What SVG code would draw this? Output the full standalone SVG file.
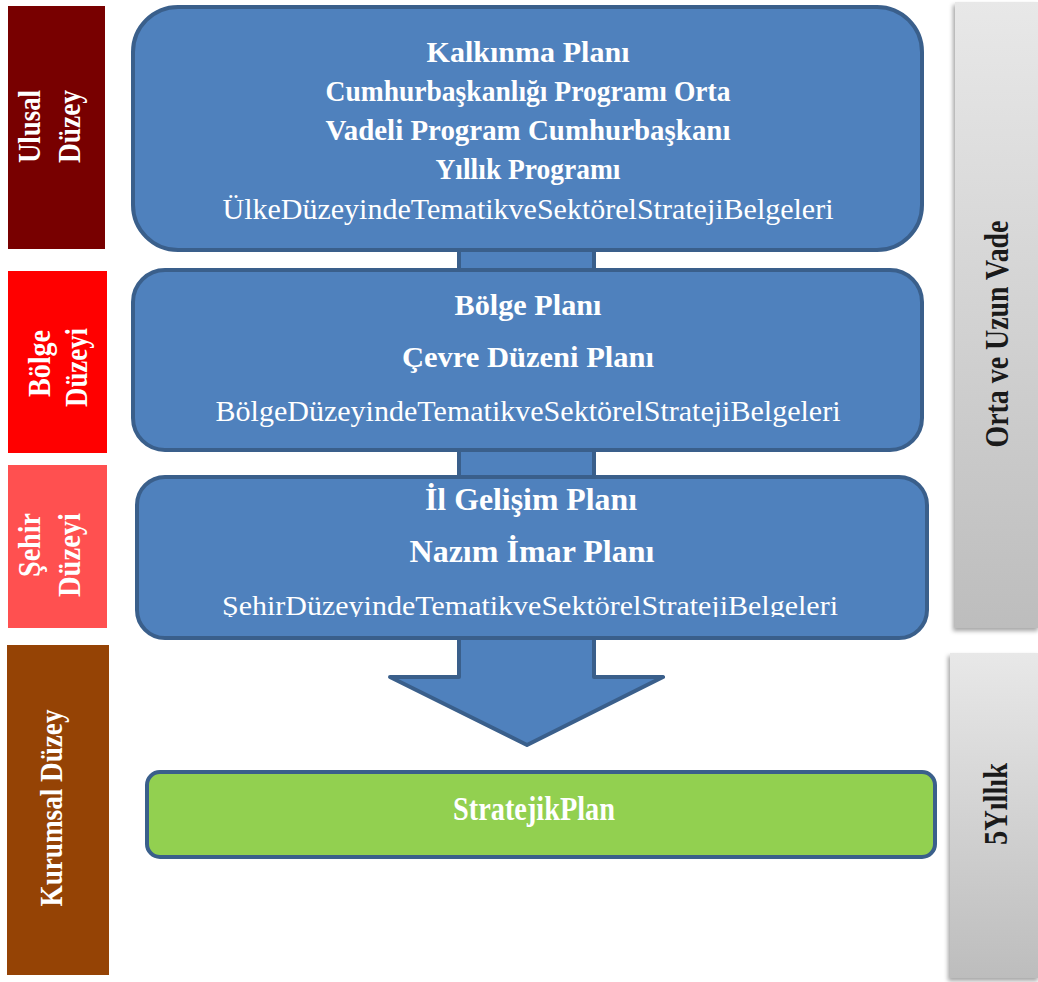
<svg xmlns="http://www.w3.org/2000/svg" width="1038" height="982" viewBox="0 0 1038 982">
<style>
.box{fill:#4F81BD;stroke:#3A5F8B;stroke-width:4}
.green{fill:#92D050;stroke:#3A5F8B;stroke-width:4}
.t{font-family:"Liberation Serif","Times New Roman",serif;fill:#FFFFFF;text-anchor:middle;font-size:30px}
.b{font-weight:bold}
.lab{font-family:"Liberation Serif","Times New Roman",serif;fill:#FFFFFF;font-weight:bold;font-size:32px}
.gl{font-family:"Liberation Serif","Times New Roman",serif;fill:#1A1A1A;font-weight:bold;font-size:33px;text-anchor:middle}
</style>
<defs>
<linearGradient id="gray" x1="0" y1="0" x2="0" y2="1">
<stop offset="0" stop-color="#E8E8E8"/>
<stop offset="1" stop-color="#BDBDBD"/>
</linearGradient>
<filter id="sh" x="-20%" y="-5%" width="140%" height="110%">
<feDropShadow dx="-2" dy="3" stdDeviation="2" flood-color="#000" flood-opacity="0.35"/>
</filter>
<clipPath id="clip3"><rect x="137" y="477" width="790" height="140"/></clipPath>
</defs>
<rect width="1038" height="982" fill="#FFFFFF"/>

<g id="level-ulusal">
<rect x="8" y="6" width="97" height="243" fill="#780000"/>
<text class="lab" text-anchor="end" textLength="73" lengthAdjust="spacingAndGlyphs" transform="translate(40,90) rotate(-90)">Ulusal</text>
<text class="lab" text-anchor="end" textLength="73" lengthAdjust="spacingAndGlyphs" transform="translate(80,90) rotate(-90)">Düzey</text>
</g>
<g id="level-bolge">
<rect x="8" y="271" width="99" height="182" fill="#FF0000"/>
<text class="lab" text-anchor="end" textLength="67" lengthAdjust="spacingAndGlyphs" transform="translate(50,330) rotate(-90)">Bölge</text>
<text class="lab" text-anchor="end" textLength="79" lengthAdjust="spacingAndGlyphs" transform="translate(87,328) rotate(-90)">Düzeyi</text>
</g>
<g id="level-sehir">
<rect x="8" y="465" width="99" height="163" fill="#FF5050"/>
<text class="lab" text-anchor="end" textLength="64" lengthAdjust="spacingAndGlyphs" transform="translate(40,513) rotate(-90)">Şehir</text>
<text class="lab" text-anchor="end" textLength="84" lengthAdjust="spacingAndGlyphs" transform="translate(80,513) rotate(-90)">Düzeyi</text>
</g>
<g id="level-kurumsal">
<rect x="7" y="645" width="102" height="330" fill="#954305"/>
<text class="lab" text-anchor="middle" textLength="197" lengthAdjust="spacingAndGlyphs" transform="translate(62,808) rotate(-90)">Kurumsal Düzey</text>
</g>

<g id="term-orta-uzun">
<rect x="955" y="2" width="85" height="626" fill="url(#gray)" filter="url(#sh)"/>
<text class="gl" textLength="227" lengthAdjust="spacingAndGlyphs" transform="translate(1008,334) rotate(-90)">Orta ve Uzun Vade</text>
</g>
<g id="term-5yillik">
<rect x="950" y="653" width="90" height="325" fill="url(#gray)" filter="url(#sh)"/>
<text class="gl" textLength="82" lengthAdjust="spacingAndGlyphs" transform="translate(1007,804) rotate(-90)">5Yıllık</text>
</g>

<g id="connectors">
<path class="box" stroke-linejoin="round" d="M459,240 L459,677 L390,677 L527,745 L663,677 L594,677 L594,240 Z"/>
</g>

<g id="node-ulusal">
<rect class="box" x="133" y="7" width="789" height="243" rx="45" ry="45"/>
<text class="t b" x="528" y="62" textLength="203" lengthAdjust="spacingAndGlyphs">Kalkınma Planı</text>
<text class="t b" x="528" y="101" textLength="405" lengthAdjust="spacingAndGlyphs">Cumhurbaşkanlığı Programı Orta</text>
<text class="t b" x="528" y="140" textLength="405" lengthAdjust="spacingAndGlyphs">Vadeli Program Cumhurbaşkanı</text>
<text class="t b" x="528" y="179" textLength="185" lengthAdjust="spacingAndGlyphs">Yıllık Programı</text>
<text class="t" x="528" y="219" textLength="611" lengthAdjust="spacingAndGlyphs">ÜlkeDüzeyindeTematikveSektörelStratejiBelgeleri</text>
</g>

<g id="node-bolge">
<rect class="box" x="133" y="270" width="789" height="180" rx="32" ry="32"/>
<text class="t b" x="528" y="315" textLength="147" lengthAdjust="spacingAndGlyphs">Bölge Planı</text>
<text class="t b" x="528" y="367" textLength="252" lengthAdjust="spacingAndGlyphs">Çevre Düzeni Planı</text>
<text class="t" x="528" y="421" textLength="625" lengthAdjust="spacingAndGlyphs">BölgeDüzeyindeTematikveSektörelStratejiBelgeleri</text>
</g>

<g id="node-sehir">
<rect class="box" x="137" y="477" width="790" height="161" rx="28" ry="28"/>
<text class="t b" x="531" y="510" style="font-size:31px" textLength="212" lengthAdjust="spacingAndGlyphs">İl Gelişim Planı</text>
<text class="t b" x="532" y="562" style="font-size:31px" textLength="245" lengthAdjust="spacingAndGlyphs">Nazım İmar Planı</text>
<g clip-path="url(#clip3)">
<text class="t" x="530" y="615" style="font-size:28px" textLength="616" lengthAdjust="spacingAndGlyphs">ŞehirDüzeyindeTematikveSektörelStratejiBelgeleri</text>
</g>
</g>

<g id="node-stratejik">
<rect class="green" x="147" y="772" width="788" height="85" rx="13" ry="13"/>
<text class="t b" x="534" y="820" style="font-size:33px" textLength="162" lengthAdjust="spacingAndGlyphs">StratejikPlan</text>
</g>
</svg>
